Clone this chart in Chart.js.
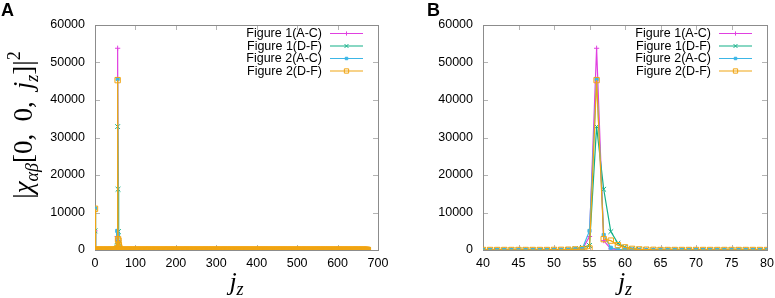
<!DOCTYPE html>
<html><head><meta charset="utf-8">
<script src="https://cdn.jsdelivr.net/npm/chart.js@4/dist/chart.umd.min.js"></script>
<style>
html,body{margin:0;padding:0;background:#fff;width:775px;height:298px;overflow:hidden}
canvas{position:absolute;top:0}
</style></head><body>
<canvas id="ca" width="390" height="298" style="left:0"></canvas>
<canvas id="cb" width="385" height="298" style="left:390px"></canvas>
<script>
// ---------- data ----------
const seriesLabels = ['Figure 1(A-C)', 'Figure 1(D-F)', 'Figure 2(A-C)', 'Figure 2(D-F)'];
const jzLast = 675;                       // last jz in the full run (panel A)
// values at jz = 0, per series
const atJz0 = [5100, 5100, 11100, 11000];
// jz 40..80 (panel B window); everything outside this window and jz=0 reads as 0
const jzZoom = [40,41,42,43,44,45,46,47,48,49,50,51,52,53,54,55,56,57,58,59,60,
                61,62,63,64,65,66,67,68,69,70,71,72,73,74,75,76,77,78,79,80];
const fig1AC = [0,0,0,0,0,0,0,0,0,0, 0,30,60,150,250, 3600,53800,2500,300,100,
                50,20,0,0,0, 0,0,0,0,0, 0,0,0,0,0, 0,0,0,0,0, 0];
const fig1DF = [0,0,0,0,0,0,0,0,0,20, 40,80,150,350,700, 1200,32900,16200,4900,1800,
                700,350,200,100,50, 20,0,0,0,0, 0,0,0,0,0, 0,0,0,0,0, 0];
const fig2AC = [0,0,0,0,0,0,0,0,0,0, 20,50,100,200,400, 5100,45600,4000,600,200,
                100,50,20,0,0, 0,0,0,0,0, 0,0,0,0,0, 0,0,0,0,0, 0];
const fig2DF = [0,0,0,0,0,0,0,0,0,0, 20,40,80,150,250, 400,45300,2900,2500,1300,
                700,300,150,80,40, 0,0,0,0,0, 0,0,0,0,0, 0,0,0,0,0, 0];
const yTicks  = [0, 10000, 20000, 30000, 40000, 50000, 60000];
const xTicksA = [0, 100, 200, 300, 400, 500, 600, 700];
const xTicksB = [40, 45, 50, 55, 60, 65, 70, 75, 80];

// ---------- styling ----------
const seriesValues = [fig1AC, fig1DF, fig2AC, fig2DF];
const colors = ['#e040e0', '#12b088', '#3cb6e6', '#f0a514'];
const pStyles = ['cross', 'crossRot', 'rect', 'rect'];
const pRadius = [2.6, 3.4, 2.2, 3.8];
const pFill = ['#e040e0', '#12b088', '#3cb6e6', 'rgba(0,0,0,0)'];

function fullSeries(k) {
  const pts = [];
  for (let j = 0; j <= jzLast; j++) {
    let y = 0;
    if (j === 0) y = atJz0[k];
    else { const i = jzZoom.indexOf(j); if (i >= 0) y = seriesValues[k][i]; }
    pts.push({x: j, y: y});
  }
  return pts;
}
function zoomSeries(k) { return jzZoom.map((j, i) => ({x: j, y: seriesValues[k][i]})); }

function makeDatasets(zoom) {
  return seriesLabels.map((lab, k) => ({
    label: lab,
    data: zoom ? zoomSeries(k) : fullSeries(k),
    borderColor: colors[k],
    backgroundColor: pFill[k],
    pointBorderColor: colors[k],
    pointBackgroundColor: pFill[k],
    borderWidth: 1.2,
    pointStyle: pStyles[k],
    pointRadius: pRadius[k],
    pointBorderWidth: 1,
    tension: 0,
    order: 4 - k
  }));
}

const SERIF = "'Liberation Serif', 'DejaVu Serif', serif";
function drawPieces(ctx, pieces, cx, cy) {
  let w = 0;
  pieces.forEach(p => { ctx.font = p.f; p.w = ctx.measureText(p.t).width; w += p.w; });
  let x = cx - w / 2;
  ctx.textBaseline = 'alphabetic'; ctx.textAlign = 'left';
  pieces.forEach(p => { ctx.font = p.f; ctx.fillText(p.t, x, cy + (p.dy || 0)); x += p.w; });
}

const deco = {
  id: 'deco',
  beforeDatasetsDraw(chart, args, o) {
    const ctx = chart.ctx, a = chart.chartArea;
    const xs = chart.scales.x, ys = chart.scales.y;
    ctx.save();
    ctx.strokeStyle = '#b4b4b4'; ctx.lineWidth = 1;
    ctx.beginPath();
    xs.ticks.forEach(t => {
      const px = Math.round(xs.getPixelForValue(t.value)) + 0.5;
      ctx.moveTo(px, a.bottom); ctx.lineTo(px, a.bottom - 5);
      ctx.moveTo(px, a.top); ctx.lineTo(px, a.top + 5);
    });
    ys.ticks.forEach(t => {
      const py = Math.round(ys.getPixelForValue(t.value)) + 0.5;
      ctx.moveTo(a.left, py); ctx.lineTo(a.left + 5, py);
      ctx.moveTo(a.right, py); ctx.lineTo(a.right - 5, py);
    });
    ctx.stroke();
    ctx.strokeStyle = '#8c8c8c';
    ctx.strokeRect(Math.round(a.left) + 0.5, Math.round(a.top) + 0.5,
                   Math.round(a.right - a.left), Math.round(a.bottom - a.top));
    ctx.restore();
  },
  afterDraw(chart, args, o) {
    const ctx = chart.ctx, a = chart.chartArea;
    ctx.save();
    ctx.fillStyle = '#000';
    // panel label
    ctx.font = "bold 18px 'Liberation Sans', Arial, sans-serif";
    ctx.textAlign = 'left'; ctx.textBaseline = 'alphabetic';
    ctx.fillText(o.label, o.labelX, 16);
    // x title j_z
    drawPieces(ctx, [
      {t: 'j', f: 'italic 26px ' + SERIF},
      {t: 'z', f: 'italic 18px ' + SERIF, dy: 5}
    ], (a.left + a.right) / 2, 290);
    // y title
    if (o.yTitle) {
      ctx.save();
      ctx.translate(32, 125);
      ctx.rotate(-Math.PI / 2);
      drawPieces(ctx, [
        {t: '|', f: '27px ' + SERIF},
        {t: 'χ', f: 'italic 27px ' + SERIF},
        {t: 'αβ', f: 'italic 18px ' + SERIF, dy: 6},
        {t: '[0,\u2009 0,\u2009 ', f: '27px ' + SERIF},
        {t: 'j', f: 'italic 27px ' + SERIF},
        {t: 'z', f: 'italic 18px ' + SERIF, dy: 6},
        {t: ']|', f: '27px ' + SERIF},
        {t: '2', f: '18px ' + SERIF, dy: -12}
      ], 0, 0);
      ctx.restore();
    }
    // legend
    const textRight = a.right - 56, l0 = a.right - 48, l1 = a.right - 15;
    ctx.font = "12.5px 'Liberation Sans', Arial, sans-serif";
    chart.data.datasets.forEach((ds, k) => {
      const y = 33.5 + k * 12.5;
      ctx.fillStyle = '#000'; ctx.textAlign = 'right'; ctx.textBaseline = 'middle';
      ctx.fillText(ds.label, textRight, y + 0.5);
      ctx.strokeStyle = ds.borderColor; ctx.lineWidth = 1.2;
      ctx.beginPath(); ctx.moveTo(l0, y); ctx.lineTo(l1, y); ctx.stroke();
      ctx.fillStyle = ds.pointBackgroundColor; ctx.strokeStyle = ds.borderColor; ctx.lineWidth = 1;
      Chart.helpers.drawPoint(ctx, {pointStyle: ds.pointStyle, radius: ds.pointRadius * 0.8, borderWidth: 1, rotation: 0}, (l0 + l1) / 2, y);
    });
    ctx.restore();
  }
};

Chart.defaults.font.family = "'Liberation Sans', Arial, sans-serif";
Chart.defaults.font.size = 12.5;
Chart.defaults.color = '#000';

function makeChart(id, zoom) {
  const xt = zoom ? xTicksB : xTicksA;
  return new Chart(document.getElementById(id), {
    type: 'line',
    data: {datasets: makeDatasets(zoom)},
    plugins: [deco],
    options: {
      responsive: false, animation: false, devicePixelRatio: 1, events: [],
      layout: {padding: {left: 0, top: 25, right: zoom ? 8 : 12, bottom: 0}},
      plugins: {
        legend: {display: false}, tooltip: {enabled: false},
        deco: {label: zoom ? 'B' : 'A', labelX: zoom ? 37 : 1, yTitle: !zoom}
      },
      scales: {
        x: {
          type: 'linear', min: xt[0], max: xt[xt.length - 1],
          grid: {display: false, drawTicks: false}, border: {display: false},
          ticks: {padding: 6, maxRotation: 0, autoSkip: false, callback: v => String(v)},
          afterBuildTicks: s => { s.ticks = xt.map(v => ({value: v})); },
          afterFit: s => { s.height = 48; s.paddingLeft = 0; s.paddingRight = 0; }
        },
        y: {
          type: 'linear', min: 0, max: 60000,
          grid: {display: false, drawTicks: false}, border: {display: false},
          ticks: {padding: 10, autoSkip: false, callback: v => String(v)},
          afterBuildTicks: s => { s.ticks = yTicks.map(v => ({value: v})); },
          afterFit: s => { s.width = zoom ? 93 : 95; s.paddingTop = 0; s.paddingBottom = 0; }
        }
      }
    }
  });
}
makeChart('ca', false);
makeChart('cb', true);
</script>
</body></html>
